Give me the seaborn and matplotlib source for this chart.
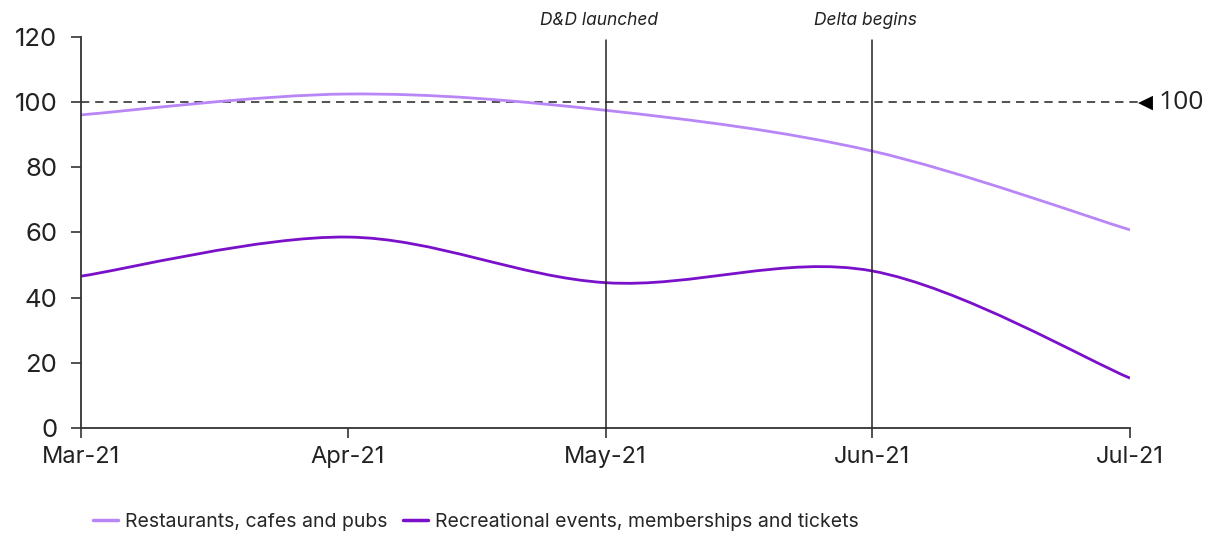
import numpy as np
import pandas as pd
import matplotlib
matplotlib.use("Agg")
import matplotlib.pyplot as plt
import matplotlib.dates as mdates
from matplotlib.path import Path
from matplotlib.patches import PathPatch
from matplotlib.lines import Line2D
import seaborn as sns

# Monthly spending index
months = ["2021-03-01", "2021-04-01", "2021-05-01", "2021-06-01", "2021-07-01"]
month_labels = ["Mar-21", "Apr-21", "May-21", "Jun-21", "Jul-21"]
restaurants = [96.1, 102.5, 97.5, 85.0, 60.8]
recreational = [46.6, 58.6, 44.6, 48.2, 15.3]
series_names = ["Restaurants, cafes and pubs",
                "Recreational events, memberships and tickets"]
events = [("2021-05-01", "D&D launched"), ("2021-06-01", "Delta begins")]
baseline = 100

colors = ["#b886f7", "#7a10c9"]

sns.set_theme(style="white")
plt.rcParams["font.family"] = ["Inter", "DejaVu Sans"]

df = pd.DataFrame({"month": pd.to_datetime(months),
                   series_names[0]: restaurants,
                   series_names[1]: recreational})

fig = plt.figure(figsize=(12.13, 5.33), dpi=100)
ax = fig.add_axes([0.0668, 0.197, 0.8648, 0.7336])

x = mdates.date2num(df["month"])


def smooth_path(xs, ys):
    """Catmull-Rom curve through the points, expressed as cubic Bezier segments."""
    xs = np.asarray(xs, float)
    ys = np.asarray(ys, float)
    n = len(xs)
    verts = [(xs[0], ys[0])]
    codes = [Path.MOVETO]
    for i in range(n - 1):
        p0 = (xs[max(i - 1, 0)], ys[max(i - 1, 0)])
        p1 = (xs[i], ys[i])
        p2 = (xs[i + 1], ys[i + 1])
        p3 = (xs[min(i + 2, n - 1)], ys[min(i + 2, n - 1)])
        c1 = (p1[0] + (p2[0] - p0[0]) / 6, p1[1] + (p2[1] - p0[1]) / 6)
        c2 = (p2[0] - (p3[0] - p1[0]) / 6, p2[1] - (p3[1] - p1[1]) / 6)
        verts += [c1, c2, p2]
        codes += [Path.CURVE4] * 3
    return Path(verts, codes)


# baseline reference
ax.axhline(baseline, color="#333333", lw=1.2, ls=(0, (5, 3.5)), zorder=1,
           xmax=1.01, clip_on=False)

for name, col in zip(series_names, colors):
    patch = PathPatch(smooth_path(x, df[name]), facecolor="none",
                      edgecolor=col, lw=2.0, zorder=2, capstyle="butt")
    ax.add_patch(patch)

# event markers
for d, label in events:
    xd = mdates.date2num(pd.Timestamp(d))
    ax.plot([xd, xd], [0, 119], color="#222222", lw=1.1, zorder=3, clip_on=False)
    ax.annotate(label, xy=(xd, 122.5), xytext=(-5, 0), textcoords="offset points",
                ha="center", va="bottom", fontsize=12.5, style="italic",
                color="#222222", annotation_clip=False)

ax.set_xlim(x[0], x[-1])
ax.set_ylim(0, 120)
ax.set_yticks(range(0, 121, 20))
ax.set_xticks(x)
ax.set_xticklabels(month_labels)

for s in ["top", "right"]:
    ax.spines[s].set_visible(False)
for s in ["left", "bottom"]:
    ax.spines[s].set_color("#333333")
    ax.spines[s].set_linewidth(1.3)

ax.tick_params(axis="both", which="major", direction="out", length=7,
               width=1.2, color="#333333", labelcolor="#222222",
               left=True, bottom=True)
ax.tick_params(axis="y", pad=10, labelsize=18.5)
ax.tick_params(axis="x", pad=6, labelsize=17)

# right-hand marker for the 100 baseline
ax.annotate("\u25C0", xy=(1.015, baseline), xycoords=("axes fraction", "data"),
            ha="center", va="center", fontsize=14, color="black",
            family=["DejaVu Sans"], annotation_clip=False)
ax.annotate("100", xy=(1.027, baseline), xycoords=("axes fraction", "data"),
            ha="left", va="center", fontsize=19, color="#222222",
            family=["Open Sans", "DejaVu Sans"], annotation_clip=False)

handles = [Line2D([], [], color=c, lw=2.5) for c in colors]
fig.legend(handles, series_names, loc="center left", bbox_to_anchor=(0.062, 0.021),
           ncol=2, frameon=False, fontsize=14, handlelength=1.3,
           handletextpad=0.35, columnspacing=0.8)

fig.savefig("out.png", dpi=100, facecolor="white")
